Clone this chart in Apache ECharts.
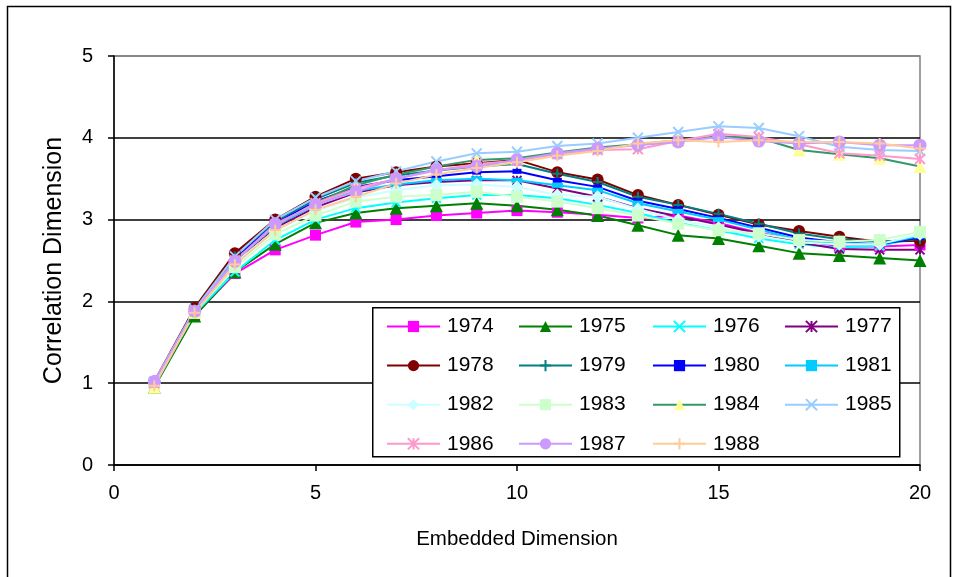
<!DOCTYPE html>
<html>
<head>
	<meta charset="utf-8" />
	<title>Correlation Dimension</title>
	<script src="https://cdn.jsdelivr.net/npm/echarts@6/dist/echarts.min.js"></script>
	<style>
		html, body { margin: 0; padding: 0; background: #fff; }
		#main { width: 959px; height: 577px; }
	</style>
</head>
<body>
	<div id="main"></div>
	<script type="text/javascript">
		/******************* data ******************/
		var dims = [1, 2, 3, 4, 5, 6, 7, 8, 9, 10, 11, 12, 13, 14, 15, 16, 17, 18, 19, 20];

		var y1974 = [1.00, 1.83, 2.34, 2.63, 2.81, 2.97, 3.00, 3.05, 3.08, 3.11, 3.09, 3.06, 3.02, 3.05, 2.96, 2.84, 2.75, 2.67, 2.67, 2.69];
		var y1975 = [0.95, 1.82, 2.36, 2.70, 2.96, 3.08, 3.14, 3.17, 3.20, 3.17, 3.12, 3.05, 2.93, 2.81, 2.77, 2.68, 2.59, 2.56, 2.53, 2.50];
		var y1976 = [1.00, 1.85, 2.36, 2.75, 3.00, 3.14, 3.21, 3.26, 3.30, 3.30, 3.26, 3.18, 3.08, 2.96, 2.87, 2.77, 2.70, 2.66, 2.68, 2.78];
		var y1977 = [1.00, 1.88, 2.50, 2.90, 3.15, 3.33, 3.42, 3.46, 3.48, 3.48, 3.38, 3.28, 3.14, 3.04, 2.94, 2.83, 2.72, 2.64, 2.63, 2.63];
		var y1978 = [1.02, 1.92, 2.59, 3.00, 3.28, 3.50, 3.58, 3.65, 3.69, 3.73, 3.58, 3.49, 3.30, 3.18, 3.06, 2.94, 2.86, 2.79, 2.73, 2.74];
		var y1979 = [1.00, 1.90, 2.55, 2.97, 3.25, 3.45, 3.54, 3.60, 3.65, 3.68, 3.56, 3.46, 3.28, 3.18, 3.07, 2.95, 2.83, 2.76, 2.73, 2.76];
		var y1980 = [1.00, 1.90, 2.52, 2.95, 3.22, 3.40, 3.48, 3.53, 3.58, 3.59, 3.48, 3.40, 3.23, 3.13, 3.02, 2.90, 2.78, 2.72, 2.70, 2.78];
		var y1981 = [1.00, 1.88, 2.50, 2.92, 3.18, 3.35, 3.43, 3.48, 3.50, 3.48, 3.42, 3.36, 3.20, 3.10, 3.00, 2.88, 2.75, 2.71, 2.70, 2.80];
		var y1982 = [1.00, 1.87, 2.46, 2.87, 3.10, 3.27, 3.36, 3.42, 3.43, 3.40, 3.30, 3.28, 3.13, 3.00, 2.90, 2.80, 2.72, 2.70, 2.70, 2.82];
		var y1983 = [1.00, 1.86, 2.42, 2.82, 3.05, 3.22, 3.28, 3.30, 3.34, 3.28, 3.22, 3.14, 3.05, 2.95, 2.87, 2.83, 2.75, 2.73, 2.75, 2.85];
		var y1984 = [0.95, 1.87, 2.50, 2.93, 3.20, 3.42, 3.55, 3.65, 3.73, 3.75, 3.82, 3.88, 3.92, 3.97, 4.02, 4.00, 3.85, 3.80, 3.75, 3.65];
		var y1985 = [1.02, 1.90, 2.55, 3.00, 3.27, 3.47, 3.59, 3.71, 3.81, 3.83, 3.90, 3.93, 4.00, 4.07, 4.14, 4.12, 4.02, 3.89, 3.85, 3.84];
		var y1986 = [1.00, 1.88, 2.50, 2.93, 3.20, 3.38, 3.50, 3.60, 3.68, 3.72, 3.80, 3.85, 3.86, 3.96, 4.05, 4.01, 3.92, 3.81, 3.78, 3.74];
		var y1987 = [1.02, 1.88, 2.49, 2.95, 3.18, 3.34, 3.50, 3.61, 3.65, 3.73, 3.81, 3.87, 3.91, 3.95, 4.01, 3.96, 3.93, 3.95, 3.91, 3.91];
		var y1988 = [0.97, 1.86, 2.45, 2.87, 3.12, 3.28, 3.44, 3.55, 3.63, 3.70, 3.78, 3.84, 3.93, 3.97, 3.95, 3.97, 3.95, 3.95, 3.93, 3.87];

		var xTicks = [0, 5, 10, 15, 20];
		var yTicks = [0, 1, 2, 3, 4, 5];

		/******************* styles ******************/
		var FONT = "'Liberation Sans', Arial, sans-serif";
		var X_MARK = 'path://M0,0L10,10M10,0L0,10';
		var STAR_MARK = 'path://M0,0L10,10M10,0L0,10M5,0L5,10';
		var PLUS_MARK = 'path://M5,0L5,10M0,5L10,5';

		// name, values, line colour, marker colour, marker, marker size, stroked marker
		var seriesDefs = [
			['1974', y1974, '#FF00FF', '#FF00FF', 'rect', 11, false],
			['1975', y1975, '#008000', '#008000', 'triangle', 13, false],
			['1976', y1976, '#00FFFF', '#00FFFF', X_MARK, 9, true],
			['1977', y1977, '#800080', '#800080', STAR_MARK, 9, true],
			['1978', y1978, '#800000', '#800000', 'circle', 12, false],
			['1979', y1979, '#008080', '#008080', PLUS_MARK, 10, true],
			['1980', y1980, '#0000FF', '#0000FF', 'rect', [9, 5], false],
			['1981', y1981, '#00CCFF', '#00CCFF', 'rect', [11, 5], false],
			['1982', y1982, '#CCFFFF', '#CCFFFF', 'diamond', 13, false],
			['1983', y1983, '#CCFFCC', '#CCFFCC', 'rect', 12, false],
			['1984', y1984, '#339966', '#FFFF99', 'triangle', 13, false],
			['1985', y1985, '#99CCFF', '#99CCFF', X_MARK, 10, true],
			['1986', y1986, '#FF99CC', '#FF99CC', STAR_MARK, 10, true],
			['1987', y1987, '#CC99FF', '#CC99FF', 'circle', 13, false],
			['1988', y1988, '#FFCC99', '#FFCC99', PLUS_MARK, 11, true]
		];

		var series = seriesDefs.map(function (d) {
			var pts = [];
			for (var i = 0; i < dims.length; ++i) {
				pts.push([dims[i], d[1][i]]);
			}
			var itemStyle = { color: d[3] };
			if (d[6]) {
				itemStyle.borderColor = d[3];
				itemStyle.borderWidth = 2;
			}
			return {
				name: d[0],
				type: 'line',
				data: pts,
				symbol: d[4],
				symbolSize: d[5],
				showAllSymbol: true,
				lineStyle: { color: d[2], width: 2 },
				itemStyle: itemStyle,
				emphasis: { disabled: true }
			};
		});

		// legend: one vertical block per column
		var legendCols = [
			['1974', '1978', '1982', '1986'],
			['1975', '1979', '1983', '1987'],
			['1976', '1980', '1984', '1988'],
			['1977', '1981', '1985']
		];
		var colLeft = [386, 518, 652, 784];
		var legends = legendCols.map(function (names, i) {
			return {
				data: names,
				orient: 'vertical',
				left: colLeft[i],
				top: 316,
				padding: 0,
				itemWidth: 53,
				itemHeight: 14,
				itemGap: 18.1,
				selectedMode: false,
				textStyle: {
					fontFamily: FONT,
					fontSize: 21,
					color: '#000',
					lineHeight: 20,
					padding: [0, 0, 0, 2]
				}
			};
		});

		/******************* chart ******************/
		var dom = document.getElementById('main');
		var myChart = echarts.init(dom, null, { renderer: 'canvas' });

		var option = {
			animation: false,
			backgroundColor: '#fff',
			textStyle: { fontFamily: FONT },
			grid: {
				left: 114,
				right: 39,
				top: 56,
				bottom: 112,
				show: true,
				borderColor: '#808080',
				borderWidth: 1.5,
				backgroundColor: '#fff'
			},
			legend: legends,
			xAxis: {
				type: 'value',
				min: xTicks[0],
				max: xTicks[xTicks.length - 1],
				interval: 5,
				name: 'Embedded Dimension',
				nameLocation: 'middle',
				nameGap: 64,
				nameTextStyle: { fontFamily: FONT, fontSize: 20.5, color: '#000' },
				axisLine: { lineStyle: { color: '#000', width: 1.5 } },
				axisTick: { show: true, inside: false, length: 6, lineStyle: { color: '#000', width: 1.5 } },
				axisLabel: { fontFamily: FONT, fontSize: 20, color: '#000', margin: 18 },
				splitLine: { show: false }
			},
			yAxis: {
				type: 'value',
				min: yTicks[0],
				max: yTicks[yTicks.length - 1],
				interval: 1,
				name: 'Correlation Dimension',
				nameLocation: 'middle',
				nameRotate: 90,
				nameGap: 47,
				nameTextStyle: { fontFamily: FONT, fontSize: 25, color: '#000' },
				axisLine: { show: true, lineStyle: { color: '#000', width: 1.5 } },
				axisTick: { show: true, inside: false, length: 6, lineStyle: { color: '#000', width: 1.5 } },
				axisLabel: { fontFamily: FONT, fontSize: 20, color: '#000', margin: 21 },
				splitLine: {
					show: true,
					lineStyle: {
						color: ['#000', '#000', '#000', '#000', '#000', '#808080'],
						width: 1.5
					}
				}
			},
			graphic: [
				{
					type: 'rect',
					left: 5,
					top: 4,
					shape: { width: 943, height: 590 },
					style: { fill: 'none', stroke: '#000', lineWidth: 1.5 },
					silent: true
				},
				{
					type: 'rect',
					left: 372,
					top: 307,
					z: 4,
					shape: { width: 527, height: 149 },
					style: { fill: '#fff', stroke: '#000', lineWidth: 1.5 },
					silent: true
				}
			],
			series: series
		};

		myChart.setOption(option);
		window.addEventListener('resize', myChart.resize);
	</script>
</body>
</html>
